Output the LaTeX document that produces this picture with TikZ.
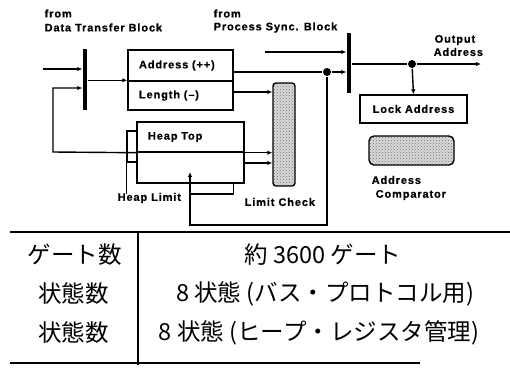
\documentclass[tikz,border=0pt]{standalone}
\usepackage{fontspec}
\newfontfamily\lab{Liberation Sans}[LetterSpace=8,FakeBold=0.6]
\newfontfamily\cjk{Noto Sans CJK JP}
\usetikzlibrary{arrows.meta,patterns}
\begin{document}
\begin{tikzpicture}[x=1pt,y=-1pt,
  line width=1.4pt,
  lbl/.style={font=\lab\bfseries\fontsize{11}{12}\selectfont, inner sep=0pt},
  reg/.style={draw, line width=1.4pt, minimum width=105pt, inner xsep=0pt, text width=83pt, align=left, font=\lab\bfseries\fontsize{11}{12}\selectfont},
  arr/.style={-{Latex[length=5pt,width=4.5pt]}},
  jdot/.style={circle, fill, inner sep=0pt, minimum size=8pt},
  busbar/.style={fill, inner sep=0pt, minimum width=4pt},
  shadebox/.style={draw, line width=1.4pt, preaction={fill=gray!30}, pattern=crosshatch dots, pattern color=gray!90!black},
  tj/.style={font=\cjk\fontsize{23.5}{25}\selectfont, inner sep=0pt}
]
\useasboundingbox (0,0) rectangle (510,370);

% labels
\node[lbl, anchor=west] (fromA) at (44,13.5) {from};
\node[lbl, anchor=west] (dtb) at (44,27.5) {Data Transfer Block};
\node[lbl, anchor=west] (fromB) at (213,13.5) {from};
\node[lbl, anchor=west] (psb) at (213,27.5) {Process Sync. Block};
\node[lbl, anchor=west] (outA) at (434,40) {Output};
\node[lbl, anchor=west] (outB) at (433,52) {Address};
\node[lbl, anchor=west] (hlim) at (117,198) {Heap Limit};
\node[lbl, anchor=west] (lchk) at (244,202) {Limit Check};
\node[lbl, anchor=west] (cmpA) at (371,180) {Address};
\node[lbl, anchor=west] (cmpB) at (375,195) {Comparator};

% bus bars
\node[busbar, minimum height=61pt] (lbar) at (85,79.5) {};
\node[busbar, minimum height=60pt] (rbar) at (349,63) {};

% registers
\node[reg, minimum height=31pt] (addr) at (180.5,65.5) {Address (++)};
\node[reg, minimum height=29pt] (len) at (180.5,95.5) {Length (\textendash)};
\node[reg, minimum width=107pt, text width=85pt, minimum height=30pt] (htop) at (190.5,137) {Heap Top};
\node[draw, minimum width=107pt, minimum height=31pt] (hbot) at (190.5,167.5) {};
\node[draw, minimum width=10pt, minimum height=31pt, inner sep=0pt] (hsm) at (132,146.5) {};
\node[shadebox, rounded corners=3pt, minimum width=22pt, minimum height=103pt] (lc) at (284,134.5) {};
\node[draw, minimum width=107pt, minimum height=28pt, font=\lab\bfseries\fontsize{11}{12}\selectfont] (lock) at (413.5,109) {Lock Address};
\node[shadebox, rounded corners=5pt, minimum width=85pt, minimum height=29pt] (comp) at (411.5,150.5) {};

% junction dots
\node[jdot] (dot1) at (327,72) {};
\node[jdot] (dot2) at (412,64) {};

% free ends
\coordinate (in1) at (43,69);
\coordinate (in2) at (265,52);
\coordinate (out) at (481,64);
\coordinate (lp) at (53,152);
\coordinate (y88) at (0,88);
\coordinate (fb) at (190,225);
\coordinate (hin) at (190,172);
\coordinate (hj) at (190,194);

% connectors
\draw[arr] (in1) -- (in1 -| lbar.west);
\draw[arr] (htop.south west) -- (lp) |- (lbar.west |- y88);
\draw[arr] (lbar.east |- len.north west) -- (len.north west);
\draw (addr.east |- dot1) -- (dot1);
\draw[arr] (dot1) -- (dot1 -| rbar.west);
\draw[arr] (in2) -- (in2 -| rbar.west);
\draw (rbar.east |- dot2) -- (dot2);
\draw[arr] (dot2) -- (out);
\draw[arr] (dot2) -- (lock.north);
\draw[arr] ([yshift=3.5pt]len.east) coordinate (lo) -- (lo -| lc.west);
\draw[arr] (htop.south east) -- (htop.south east -| lc.west);
\draw[arr] ([yshift=4.5pt]hbot.east) coordinate (ho) -- (ho -| lc.west);
\draw[arr] (dot1) |- (fb) -- (hin);
\draw ([xshift=-11pt]hbot.south east) |- (hj);
\draw (hsm.south west) -- ++(0,31);

% table
\draw[line width=1.5pt] (10,232) -- (510,232);
\draw[line width=1.5pt] (138,232) -- (138,365);
\draw[line width=1.5pt] (10,363) -- (420,363);
\node[tj] (g1) at (74.5,255) {ゲート数};
\node[tj] (g2) at (323,255) {約 3600 ゲート};
\node[tj] (s1) at (73.5,294) {状態数};
\node[tj] (s2) at (325,294) {8 状態 (バス・プロトコル用)};
\node[tj] (s3) at (73.5,333) {状態数};
\node[tj] (s4) at (319,333) {8 状態 (ヒープ・レジスタ管理)};
\end{tikzpicture}
\end{document}
